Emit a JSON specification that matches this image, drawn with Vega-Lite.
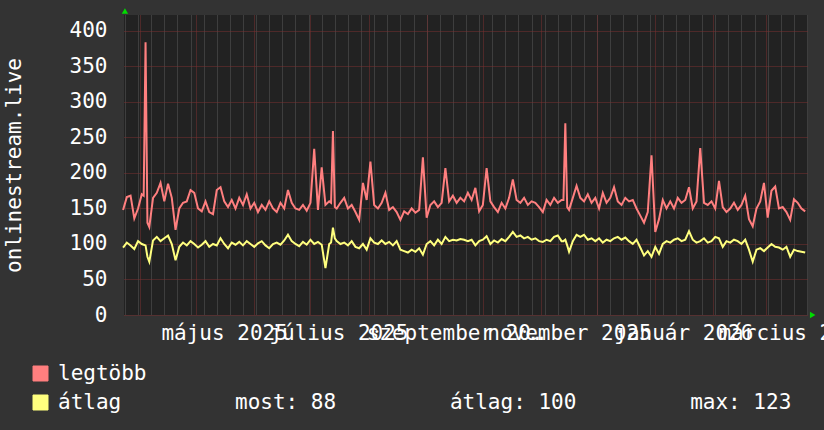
{
 "$schema": "https://vega.github.io/schema/vega-lite/v6.json",
 "width": 684,
 "height": 300,
 "autosize": {"type": "none"},
 "padding": {"left": 124, "top": 15, "right": 16, "bottom": 115},
 "background": "#333333",
 "config": {
  "view": {"fill": "#222222", "stroke": null},
  "font": "DejaVu Sans Mono",
  "axis": {"labelFont": "DejaVu Sans Mono", "labelFontSize": 21, "labelColor": "#ffffff", "titleFont": "DejaVu Sans Mono", "titleFontSize": 21, "titleColor": "#ffffff", "titleFontWeight": "normal"},
  "axisY": {
   "values": [0,10,20,30,40,50,60,70,80,90,100,110,120,130,140,150,160,170,180,190,200,210,220,230,240,250,260,270,280,290,300,310,320,330,340,350,360,370,380,390,400,410,420],
   "labelExpr": "datum.value % 50 === 0 ? datum.label : ''",
   "grid": true,
   "gridColor": {"condition": {"test": "datum.value % 50 === 0", "value": "#7a3030"}, "value": "#5a5a5a"},
   "gridOpacity": 1,
   "gridDash": [1, 1], "gridWidth": 1,
   "ticks": false, "domain": false, "labelPadding": 17, "labelOverlap": false, "labelFlush": false,
   "titlePadding": 45
  }
 },
 "datasets": {
  "rrd": [
   {"t":"2025-03-23","legtöbb":148,"átlag":95},
   {"t":"2025-03-25","legtöbb":166,"átlag":102},
   {"t":"2025-03-27","legtöbb":168,"átlag":98},
   {"t":"2025-03-29","legtöbb":136,"átlag":93},
   {"t":"2025-03-31","legtöbb":150,"átlag":104},
   {"t":"2025-04-02","legtöbb":170,"átlag":100},
   {"t":"2025-04-03","legtöbb":168,"átlag":99},
   {"t":"2025-04-04","legtöbb":384,"átlag":98},
   {"t":"2025-04-05","legtöbb":130,"átlag":82},
   {"t":"2025-04-06","legtöbb":124,"átlag":75},
   {"t":"2025-04-08","legtöbb":165,"átlag":105},
   {"t":"2025-04-10","legtöbb":172,"átlag":110},
   {"t":"2025-04-12","legtöbb":186,"átlag":104},
   {"t":"2025-04-14","legtöbb":160,"átlag":108},
   {"t":"2025-04-16","legtöbb":185,"átlag":112},
   {"t":"2025-04-18","legtöbb":165,"átlag":100},
   {"t":"2025-04-20","legtöbb":120,"átlag":77},
   {"t":"2025-04-22","legtöbb":150,"átlag":96},
   {"t":"2025-04-24","legtöbb":158,"átlag":102},
   {"t":"2025-04-26","legtöbb":160,"átlag":98},
   {"t":"2025-04-28","legtöbb":176,"átlag":104},
   {"t":"2025-04-30","legtöbb":172,"átlag":100},
   {"t":"2025-05-02","legtöbb":150,"átlag":95},
   {"t":"2025-05-04","legtöbb":146,"átlag":99},
   {"t":"2025-05-06","legtöbb":160,"átlag":104},
   {"t":"2025-05-08","legtöbb":145,"átlag":96},
   {"t":"2025-05-10","legtöbb":142,"átlag":100},
   {"t":"2025-05-12","legtöbb":176,"átlag":98},
   {"t":"2025-05-14","legtöbb":180,"átlag":108},
   {"t":"2025-05-16","legtöbb":160,"átlag":100},
   {"t":"2025-05-18","legtöbb":152,"átlag":94},
   {"t":"2025-05-20","legtöbb":162,"átlag":102},
   {"t":"2025-05-22","legtöbb":150,"átlag":99},
   {"t":"2025-05-24","legtöbb":165,"átlag":103},
   {"t":"2025-05-26","legtöbb":155,"átlag":98},
   {"t":"2025-05-28","legtöbb":170,"átlag":104},
   {"t":"2025-05-30","legtöbb":150,"átlag":100},
   {"t":"2025-06-01","legtöbb":158,"átlag":96},
   {"t":"2025-06-03","legtöbb":145,"átlag":101},
   {"t":"2025-06-05","legtöbb":155,"átlag":104},
   {"t":"2025-06-07","legtöbb":148,"átlag":98},
   {"t":"2025-06-09","legtöbb":160,"átlag":94},
   {"t":"2025-06-11","legtöbb":150,"átlag":100},
   {"t":"2025-06-13","legtöbb":145,"átlag":102},
   {"t":"2025-06-15","legtöbb":158,"átlag":99},
   {"t":"2025-06-17","legtöbb":150,"átlag":105},
   {"t":"2025-06-19","legtöbb":176,"átlag":113},
   {"t":"2025-06-21","legtöbb":158,"átlag":104},
   {"t":"2025-06-23","legtöbb":150,"átlag":100},
   {"t":"2025-06-25","legtöbb":148,"átlag":97},
   {"t":"2025-06-27","legtöbb":155,"átlag":103},
   {"t":"2025-06-29","legtöbb":147,"átlag":99},
   {"t":"2025-07-01","legtöbb":158,"átlag":106},
   {"t":"2025-07-03","legtöbb":234,"átlag":100},
   {"t":"2025-07-05","legtöbb":148,"átlag":103},
   {"t":"2025-07-07","legtöbb":208,"átlag":99},
   {"t":"2025-07-09","legtöbb":155,"átlag":66},
   {"t":"2025-07-11","legtöbb":160,"átlag":100},
   {"t":"2025-07-12","legtöbb":158,"átlag":102},
   {"t":"2025-07-13","legtöbb":259,"átlag":123},
   {"t":"2025-07-14","legtöbb":152,"átlag":108},
   {"t":"2025-07-15","legtöbb":150,"átlag":104},
   {"t":"2025-07-17","legtöbb":158,"átlag":100},
   {"t":"2025-07-19","legtöbb":165,"átlag":102},
   {"t":"2025-07-21","legtöbb":150,"átlag":98},
   {"t":"2025-07-23","legtöbb":155,"átlag":104},
   {"t":"2025-07-25","legtöbb":145,"átlag":96},
   {"t":"2025-07-27","legtöbb":134,"átlag":94},
   {"t":"2025-07-29","legtöbb":186,"átlag":100},
   {"t":"2025-07-31","legtöbb":162,"átlag":92},
   {"t":"2025-08-02","legtöbb":216,"átlag":108},
   {"t":"2025-08-04","legtöbb":155,"átlag":102},
   {"t":"2025-08-06","legtöbb":150,"átlag":100},
   {"t":"2025-08-08","legtöbb":158,"átlag":105},
   {"t":"2025-08-10","legtöbb":172,"átlag":100},
   {"t":"2025-08-12","legtöbb":148,"átlag":103},
   {"t":"2025-08-14","legtöbb":152,"átlag":98},
   {"t":"2025-08-16","legtöbb":145,"átlag":104},
   {"t":"2025-08-18","legtöbb":134,"átlag":92},
   {"t":"2025-08-20","legtöbb":146,"átlag":90},
   {"t":"2025-08-22","legtöbb":142,"átlag":88},
   {"t":"2025-08-24","legtöbb":150,"átlag":92},
   {"t":"2025-08-26","legtöbb":144,"átlag":89},
   {"t":"2025-08-28","legtöbb":148,"átlag":94},
   {"t":"2025-08-30","legtöbb":222,"átlag":85},
   {"t":"2025-09-01","legtöbb":137,"átlag":100},
   {"t":"2025-09-03","legtöbb":155,"átlag":104},
   {"t":"2025-09-05","legtöbb":160,"átlag":98},
   {"t":"2025-09-07","legtöbb":152,"átlag":106},
   {"t":"2025-09-09","legtöbb":158,"átlag":100},
   {"t":"2025-09-11","legtöbb":207,"átlag":110},
   {"t":"2025-09-13","legtöbb":160,"átlag":104},
   {"t":"2025-09-15","legtöbb":168,"átlag":106},
   {"t":"2025-09-17","legtöbb":158,"átlag":105},
   {"t":"2025-09-19","legtöbb":165,"átlag":107},
   {"t":"2025-09-21","legtöbb":160,"átlag":106},
   {"t":"2025-09-23","legtöbb":172,"átlag":104},
   {"t":"2025-09-25","legtöbb":162,"átlag":106},
   {"t":"2025-09-27","legtöbb":179,"átlag":98},
   {"t":"2025-09-29","legtöbb":146,"átlag":104},
   {"t":"2025-10-01","legtöbb":155,"átlag":106},
   {"t":"2025-10-03","legtöbb":207,"átlag":111},
   {"t":"2025-10-05","legtöbb":160,"átlag":100},
   {"t":"2025-10-07","legtöbb":152,"átlag":105},
   {"t":"2025-10-09","legtöbb":145,"átlag":102},
   {"t":"2025-10-11","legtöbb":158,"átlag":107},
   {"t":"2025-10-13","legtöbb":150,"átlag":104},
   {"t":"2025-10-15","legtöbb":165,"átlag":110},
   {"t":"2025-10-17","legtöbb":191,"átlag":117},
   {"t":"2025-10-19","legtöbb":162,"átlag":110},
   {"t":"2025-10-21","legtöbb":158,"átlag":112},
   {"t":"2025-10-23","legtöbb":165,"átlag":108},
   {"t":"2025-10-25","legtöbb":155,"átlag":110},
   {"t":"2025-10-27","legtöbb":160,"átlag":106},
   {"t":"2025-10-29","legtöbb":158,"átlag":108},
   {"t":"2025-10-31","legtöbb":152,"átlag":104},
   {"t":"2025-11-02","legtöbb":145,"átlag":103},
   {"t":"2025-11-04","legtöbb":162,"átlag":106},
   {"t":"2025-11-06","legtöbb":155,"átlag":104},
   {"t":"2025-11-08","legtöbb":165,"átlag":110},
   {"t":"2025-11-10","legtöbb":158,"átlag":112},
   {"t":"2025-11-12","legtöbb":162,"átlag":104},
   {"t":"2025-11-13","legtöbb":162,"átlag":104},
   {"t":"2025-11-14","legtöbb":270,"átlag":106},
   {"t":"2025-11-15","legtöbb":152,"átlag":98},
   {"t":"2025-11-16","legtöbb":148,"átlag":89},
   {"t":"2025-11-18","legtöbb":165,"átlag":104},
   {"t":"2025-11-20","legtöbb":182,"átlag":113},
   {"t":"2025-11-22","legtöbb":165,"átlag":110},
   {"t":"2025-11-24","legtöbb":160,"átlag":113},
   {"t":"2025-11-26","legtöbb":170,"átlag":106},
   {"t":"2025-11-28","legtöbb":158,"átlag":108},
   {"t":"2025-11-30","legtöbb":165,"átlag":104},
   {"t":"2025-12-02","legtöbb":150,"átlag":108},
   {"t":"2025-12-04","legtöbb":172,"átlag":102},
   {"t":"2025-12-06","legtöbb":158,"átlag":106},
   {"t":"2025-12-08","legtöbb":165,"átlag":104},
   {"t":"2025-12-10","legtöbb":180,"átlag":108},
   {"t":"2025-12-12","legtöbb":160,"átlag":110},
   {"t":"2025-12-14","legtöbb":155,"átlag":106},
   {"t":"2025-12-16","legtöbb":165,"átlag":109},
   {"t":"2025-12-18","legtöbb":160,"átlag":104},
   {"t":"2025-12-20","legtöbb":162,"átlag":100},
   {"t":"2025-12-22","legtöbb":150,"átlag":106},
   {"t":"2025-12-24","legtöbb":140,"átlag":95},
   {"t":"2025-12-26","legtöbb":130,"átlag":84},
   {"t":"2025-12-28","legtöbb":145,"átlag":90},
   {"t":"2025-12-30","legtöbb":225,"átlag":82},
   {"t":"2026-01-01","legtöbb":117,"átlag":96},
   {"t":"2026-01-03","legtöbb":135,"átlag":86},
   {"t":"2026-01-05","legtöbb":162,"átlag":100},
   {"t":"2026-01-07","legtöbb":150,"átlag":104},
   {"t":"2026-01-09","legtöbb":160,"átlag":102},
   {"t":"2026-01-11","legtöbb":150,"átlag":106},
   {"t":"2026-01-13","legtöbb":165,"átlag":108},
   {"t":"2026-01-15","legtöbb":158,"átlag":104},
   {"t":"2026-01-17","legtöbb":162,"átlag":106},
   {"t":"2026-01-19","legtöbb":180,"átlag":118},
   {"t":"2026-01-21","legtöbb":150,"átlag":106},
   {"t":"2026-01-23","legtöbb":160,"átlag":102},
   {"t":"2026-01-25","legtöbb":235,"átlag":104},
   {"t":"2026-01-27","legtöbb":158,"átlag":108},
   {"t":"2026-01-29","legtöbb":155,"átlag":102},
   {"t":"2026-01-31","legtöbb":160,"átlag":104},
   {"t":"2026-02-02","legtöbb":150,"átlag":110},
   {"t":"2026-02-04","legtöbb":189,"átlag":108},
   {"t":"2026-02-06","legtöbb":152,"átlag":96},
   {"t":"2026-02-08","legtöbb":145,"átlag":104},
   {"t":"2026-02-10","legtöbb":150,"átlag":102},
   {"t":"2026-02-12","legtöbb":158,"átlag":106},
   {"t":"2026-02-14","legtöbb":148,"átlag":104},
   {"t":"2026-02-16","legtöbb":155,"átlag":100},
   {"t":"2026-02-18","legtöbb":168,"átlag":106},
   {"t":"2026-02-20","legtöbb":135,"átlag":92},
   {"t":"2026-02-22","legtöbb":125,"átlag":75},
   {"t":"2026-02-24","legtöbb":150,"átlag":92},
   {"t":"2026-02-26","legtöbb":160,"átlag":94},
   {"t":"2026-02-28","legtöbb":186,"átlag":90},
   {"t":"2026-03-02","legtöbb":137,"átlag":95},
   {"t":"2026-03-04","legtöbb":175,"átlag":100},
   {"t":"2026-03-06","legtöbb":181,"átlag":96},
   {"t":"2026-03-08","legtöbb":150,"átlag":95},
   {"t":"2026-03-10","legtöbb":152,"átlag":92},
   {"t":"2026-03-12","legtöbb":145,"átlag":96},
   {"t":"2026-03-14","legtöbb":134,"átlag":82},
   {"t":"2026-03-16","legtöbb":163,"átlag":92},
   {"t":"2026-03-18","legtöbb":158,"átlag":90},
   {"t":"2026-03-20","legtöbb":150,"átlag":89},
   {"t":"2026-03-22","legtöbb":146,"átlag":88}
  ]
 },
 "layer": [
  {
   "data": {"name": "rrd"},
   "transform": [{"fold": ["legtöbb", "átlag"], "as": ["sorozat", "ertek"]}],
   "mark": {"type": "line", "strokeWidth": 2, "interpolate": "linear"},
   "encoding": {
    "x": {
     "field": "t", "type": "temporal",
     "scale": {"type": "utc", "nice": false, "domain": [{"year": 2025, "month": 3, "date": 23, "hours": 12, "utc": true}, {"year": 2026, "month": 3, "date": 23, "hours": 12, "utc": true}]},
     "axis": {
      "orient": "bottom", "title": null, "labels": false, "ticks": false, "domain": false,
      "grid": true, "gridColor": "#5a5a5a", "gridDash": [1, 1], "gridWidth": 1,
      "values": [1742774400000,1743379200000,1743984000000,1744588800000,1745193600000,1745798400000,1746403200000,1747008000000,1747612800000,1748217600000,1748822400000,1749427200000,1750032000000,1750636800000,1751241600000,1751846400000,1752451200000,1753056000000,1753660800000,1754265600000,1754870400000,1755475200000,1756080000000,1756684800000,1757289600000,1757894400000,1758499200000,1759104000000,1759708800000,1760313600000,1760918400000,1761523200000,1762128000000,1762732800000,1763337600000,1763942400000,1764547200000,1765152000000,1765756800000,1766361600000,1766966400000,1767571200000,1768176000000,1768780800000,1769385600000,1769990400000,1770595200000,1771200000000,1771804800000,1772409600000,1773014400000,1773619200000,1774224000000]
     }
    },
    "y": {
     "field": "ertek", "type": "quantitative", "title": "onlinestream.live",
     "scale": {"domain": [0, 422.5], "nice": false}
    },
    "color": {
     "field": "sorozat", "type": "nominal",
     "scale": {"domain": ["legtöbb", "átlag"], "range": ["#ff7f7f", "#ffff7f"]},
     "legend": {
      "orient": "none", "legendX": -94, "legendY": 348, "direction": "vertical", "title": null,
      "symbolType": "square", "symbolSize": 225, "symbolStrokeWidth": 1,
      "labelFont": "DejaVu Sans Mono", "labelFontSize": 21, "labelColor": "#ffffff",
      "labelOffset": 7, "rowPadding": 7, "padding": 0, "labelLimit": 2000,
      "labelExpr": "datum.label === 'átlag' ? 'átlag\u00a0\u00a0\u00a0\u00a0\u00a0\u00a0\u00a0\u00a0\u00a0most: 88\u00a0\u00a0\u00a0\u00a0\u00a0\u00a0\u00a0\u00a0\u00a0átlag: 100\u00a0\u00a0\u00a0\u00a0\u00a0\u00a0\u00a0\u00a0\u00a0max: 123' : datum.label",
      "encode": {"symbols": {"update": {"fill": {"scale": "color", "field": "value"}, "stroke": {"value": "#000000"}, "strokeWidth": {"value": 1}, "opacity": {"value": 1}}}}
     }
    }
   }
  },
  {
   "data": {"values": [{"t": "2025-03-24", "ertek": 428}]},
   "mark": {"type": "point", "shape": "triangle-up", "filled": true, "color": "#00dd00", "size": 40, "opacity": 1},
   "encoding": {
    "x": {
     "field": "t", "type": "temporal",
     "scale": {"type": "utc", "nice": false, "domain": [{"year": 2025, "month": 3, "date": 23, "hours": 12, "utc": true}, {"year": 2026, "month": 3, "date": 23, "hours": 12, "utc": true}]},
     "axis": {
      "orient": "bottom", "title": null, "ticks": false, "domain": false,
      "tickCount": {"interval": "month", "step": 1},
      "grid": true, "gridColor": "#7a3030", "gridDash": [1, 1], "gridWidth": 1,
      "labelExpr": "utcmonth(datum.value) % 2 === 0 ? ['január','február','március','április','május','június','július','augusztus','szeptember','október','november','december'][utcmonth(datum.value)] + ' ' + utcyear(datum.value) : ''",
      "labelOffset": 28, "labelPadding": 7, "labelOverlap": false, "labelBound": false, "labelFlush": false
     }
    },
    "y": {"field": "ertek", "type": "quantitative", "title": "onlinestream.live", "scale": {"domain": [0, 422.5], "nice": false}}
   }
  },
  {
   "data": {"values": [{"t": "2026-03-26", "ertek": 0}]},
   "mark": {"type": "point", "shape": "triangle-right", "filled": true, "color": "#00dd00", "size": 40, "opacity": 1},
   "encoding": {
    "x": {
     "field": "t", "type": "temporal", "axis": null,
     "scale": {"type": "utc", "nice": false, "domain": [{"year": 2025, "month": 3, "date": 23, "hours": 12, "utc": true}, {"year": 2026, "month": 3, "date": 23, "hours": 12, "utc": true}]}
    },
    "y": {"field": "ertek", "type": "quantitative", "title": "onlinestream.live", "scale": {"domain": [0, 422.5], "nice": false}}
   }
  }
 ],
 "resolve": {"axis": {"x": "independent"}}
}
